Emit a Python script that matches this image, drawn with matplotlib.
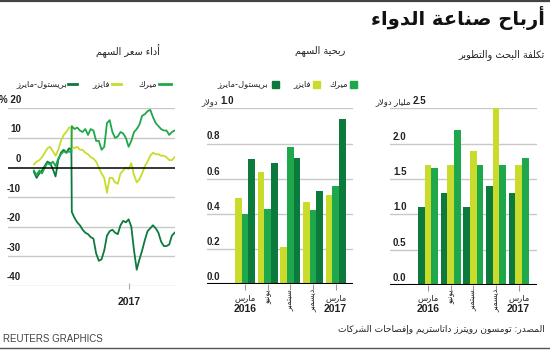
import matplotlib
matplotlib.use("Agg")
import matplotlib.pyplot as plt
import pandas as pd
import numpy as np
from matplotlib.transforms import blended_transform_factory
from matplotlib.lines import Line2D
from matplotlib.patches import Rectangle

# ---------------- data ----------------
title = "أرباح صناعة الدواء"
panel_titles = ["أداء سعر السهم", "ربحية السهم", "تكلفة البحث والتطوير"]
companies = ["بريستول-مايرز", "فايزر", "ميرك"]
quarters = ["مارس", "يونيو", "سبتمبر", "ديسمبر", "مارس"]
quarter_years = ["2016", "", "", "", "2017"]
source_text = "المصدر: تومسون رويترز داتاستريم وإفصاحات الشركات"
credit = "REUTERS GRAPHICS"

# stock performance (% change), weekly Fridays from 2016-04-29 plus 2016-08-04
stock_dates = list(pd.date_range("2016-04-29", periods=53, freq="7D"))
stock_dates.insert(14, pd.Timestamp("2016-08-04"))
bristol_pct = [-1.5, -3.5, -2, -1, 0.5, 2, 1.5, -0.5, -3, 2.5, 5, 6, 5, 6.5, 6,
               -15, -17, -18.5, -19.5, -21, -22, -22.5, -23.5, -24, -29, -31.5, -31, -28,
               -23, -21.5, -21, -22, -22.5, -19.5, -18, -18.5, -17.5, -20, -28, -34.5,
               -31, -28, -24.5, -21.5, -20.5, -19.5, -20.5, -22, -25, -26.5, -26.5, -26,
               -23, -22]
pfizer_pct = [1, 2, 2.5, 3.5, 5, 6.5, 7, 5.5, 4, 6, 9, 11, 12, 13.5, 13.5,
              7, 6.5, 7, 6, 6, 5, 4.5, 3.5, 3, 2, 0, -2, -3.5, -8.5, -3.5, -3.5, -5,
              -5.5, -2, -1, 0, -0.5, 1.5, -2.5, -5, -4, -2, 0.5, 2, 4, 5, 4.5, 4.5,
              4, 4, 3.5, 2.5, 2.5, 3.5]
merck_pct = [-1, -2.5, -1, -2, 0, 1.5, 1, 2, 0.5, 3, 4.5, 5.5, 5, 5.5, 5,
             14, 13, 13.5, 12.5, 12, 13, 11, 13, 12.5, 9, 9, 6, 7, 15, 16, 12, 10,
             10.5, 12, 11.5, 10, 7, 9, 12, 13, 14.5, 17.5, 18, 19, 19.5, 17, 15, 14,
             13, 12.5, 12.5, 11, 12, 12.5]

# earnings per share (dollars)
eps_pfizer = [0.49, 0.64, 0.21, 0.47, 0.51]
eps_merck = [0.40, 0.43, 0.78, 0.42, 0.56]
eps_bristol = [0.71, 0.69, 0.72, 0.53, 0.94]

# R&D cost (billion dollars)
rd_bristol = [1.1, 1.3, 1.1, 1.4, 1.3]
rd_pfizer = [1.7, 1.7, 1.9, 2.5, 1.7]
rd_merck = [1.65, 2.2, 1.7, 1.7, 1.8]

line_ticks = [20, 10, 0, -10, -20, -30, -40]
line_ticklabels = ["% 20", "10", "0", "-10", "-20", "-30", "-40"]
eps_ticks = [0.0, 0.2, 0.4, 0.6, 0.8, 1.0]
rd_ticks = [0.0, 0.5, 1.0, 1.5, 2.0, 2.5]

C_BMS = "#0d7a3d"
C_PFE = "#c9dc2c"
C_MRK = "#1fa84b"
GRID = "#c8c8c8"
TXT = "#222222"

# ---------------- minimal Arabic shaping ----------------
RIGHT = {'آ': 0xFE81, 'أ': 0xFE83, 'ؤ': 0xFE85, 'إ': 0xFE87, 'ا': 0xFE8D, 'ة': 0xFE93,
         'د': 0xFEA9, 'ذ': 0xFEAB, 'ر': 0xFEAD, 'ز': 0xFEAF, 'و': 0xFEED, 'ى': 0xFEEF}
DUAL = {'ئ': 0xFE89, 'ب': 0xFE8F, 'ت': 0xFE95, 'ث': 0xFE99, 'ج': 0xFE9D, 'ح': 0xFEA1,
        'خ': 0xFEA5, 'س': 0xFEB1, 'ش': 0xFEB5, 'ص': 0xFEB9, 'ض': 0xFEBD, 'ط': 0xFEC1,
        'ظ': 0xFEC5, 'ع': 0xFEC9, 'غ': 0xFECD, 'ف': 0xFED1, 'ق': 0xFED5, 'ك': 0xFED9,
        'ل': 0xFEDD, 'م': 0xFEE1, 'ن': 0xFEE5, 'ه': 0xFEE9, 'ي': 0xFEF1}
NONJ = {'ء': 0xFE80}
LAMALEF = {'ا': 0xFEFB, 'أ': 0xFEF7, 'إ': 0xFEF9, 'آ': 0xFEF5}


def shape(s):
    toks = []
    i = 0
    while i < len(s):
        c = s[i]
        if c == 'ل' and i + 1 < len(s) and s[i + 1] in LAMALEF:
            toks.append(('LA', s[i + 1]))
            i += 2
        else:
            toks.append(('C', c))
            i += 1

    def jl(t):
        return t[0] == 'C' and t[1] in DUAL

    def jr(t):
        return t[0] == 'LA' or t[1] in DUAL or t[1] in RIGHT

    out = []
    for k, t in enumerate(toks):
        kind, c = t
        pc = k > 0 and jl(toks[k - 1]) and jr(t)
        nc = k + 1 < len(toks) and jl(t) and jr(toks[k + 1])
        if kind == 'LA':
            out.append(chr(LAMALEF[c] + (1 if pc else 0)))
        elif c in DUAL:
            off = 3 if (pc and nc) else 1 if pc else 2 if nc else 0
            out.append(chr(DUAL[c] + off))
        elif c in RIGHT:
            out.append(chr(RIGHT[c] + (1 if pc else 0)))
        elif c in NONJ:
            out.append(chr(NONJ[c]))
        else:
            out.append(c)
    return ''.join(reversed(out))


AR = ["DejaVu Sans"]
NUM = ["Liberation Sans", "DejaVu Sans"]

W, H = 550, 352
fig = plt.figure(figsize=(W / 100, H / 100), dpi=100)
fig.patch.set_facecolor("white")


def fx(x):
    return x / W


def fy(y):
    return 1 - y / H


def add_ax(l, t, r, b):
    return fig.add_axes([fx(l), fy(b), (r - l) / W, (b - t) / H])


def ftext(x, y, s, **kw):
    fig.text(fx(x), fy(y), s, **kw)


# top and bottom rules
fig.add_artist(Line2D([0, 1], [fy(1), fy(1)], color="#444444", lw=1.6))
fig.add_artist(Line2D([0, 1], [fy(348), fy(348)], color="#555555", lw=1.0))

ftext(545, 18, shape(title), ha="right", va="center", fontsize=14, fontweight="bold",
      family=AR, color="#111111")
ftext(160, 51, shape(panel_titles[0]), ha="right", va="center", fontsize=7, family=AR, color=TXT)
ftext(345, 51, shape(panel_titles[1]), ha="right", va="center", fontsize=7, family=AR, color=TXT)
ftext(545, 55, shape(panel_titles[2]), ha="right", va="center", fontsize=7, family=AR, color=TXT)
ftext(545, 329, shape(source_text), ha="right", va="center", fontsize=6.5, family=AR, color=TXT)
ftext(3, 339, credit, ha="left", va="center", fontsize=7, family=NUM, color="#444444")

# ---------------- line chart ----------------
ax1 = add_ax(8, 108.3, 175, 286)
for v in line_ticks:
    if v == 0:
        continue
    ax1.axhline(v, color=GRID, lw=1, zorder=1)
ax1.plot(stock_dates, bristol_pct, color=C_BMS, lw=1.3, zorder=3)
ax1.plot(stock_dates, pfizer_pct, color=C_PFE, lw=1.3, zorder=2)
ax1.plot(stock_dates, merck_pct, color=C_MRK, lw=1.3, zorder=3)
ax1.axhline(0, color="black", lw=1.1, zorder=4)
ax1.set_ylim(-40, 20)
ax1.set_xlim(pd.Timestamp("2016-02-22"), pd.Timestamp("2017-04-29"))
for s in ax1.spines.values():
    s.set_visible(False)
ax1.set_yticks([])
ax1.set_xticks([pd.Timestamp("2017-01-01")])
ax1.set_xticklabels(["2017"], fontsize=7.5, fontweight="bold", family=NUM, color=TXT)
ax1.tick_params(axis="x", length=4, color="#aaaaaa", direction="inout", pad=6)
tr1 = blended_transform_factory(fig.transFigure, ax1.transData)
for v, lab in zip(line_ticks, line_ticklabels):
    ax1.text(fx(21), v + 1.2, lab, transform=tr1, ha="right", va="bottom", fontsize=7,
             fontweight="bold", family=NUM, color=TXT, clip_on=False)

# line legend
leg_line = [(67, 68, 77, C_BMS), (110, 112, 121, C_PFE), (157, 159, 171, C_MRK)]
for name, (tx, l0, l1, col) in zip(companies, leg_line):
    ftext(tx, 84, shape(name), ha="right", va="center", fontsize=6, family=AR, color=TXT)
    fig.add_artist(Line2D([fx(l0), fx(l1)], [fy(84), fy(84)], color=col, lw=2))

# ---------------- bar charts ----------------
xg = np.arange(len(quarters))
bw = 0.295


def bar_panel(ax, series, colors, ticks, top):
    for v in ticks[1:]:
        ax.axhline(v, color=GRID, lw=1, zorder=1)
    for k, (vals, col) in enumerate(zip(series, colors)):
        ax.bar(xg + (k - 1) * bw, vals, width=bw, color=col, zorder=2, linewidth=0)
    ax.axhline(0, color="black", lw=1.5, zorder=4)
    ax.set_ylim(0, top)
    for s in ax.spines.values():
        s.set_visible(False)
    ax.set_yticks([])
    ax.set_xticks(xg)
    ax.set_xticklabels([])
    ax.tick_params(axis="x", length=4, color="#999999", direction="out")


def bar_labels(ax, centers_px):
    for k, (q, yr) in enumerate(zip(quarters, quarter_years)):
        cx = centers_px[k]
        if yr:
            ftext(cx, 298, shape(q), ha="center", va="center", fontsize=6, family=AR, color=TXT)
            ftext(cx, 309, yr, ha="center", va="center", fontsize=7.5, fontweight="bold",
                  family=NUM, color=TXT)
        else:
            ftext(cx, 289, shape(q), ha="center", va="top", fontsize=5.5, rotation=90,
                  family=AR, color=TXT)


ax2 = add_ax(207, 108.3, 353, 284.3)
bar_panel(ax2, [eps_pfizer, eps_merck, eps_bristol], [C_PFE, C_MRK, C_BMS], eps_ticks, 1.0)
ax2.set_xlim(-1.676, 4.76)
tr2 = blended_transform_factory(fig.transFigure, ax2.transData)
for v in eps_ticks[:-1]:
    ax2.text(fx(207), v + 0.012, f"{v:.1f}", transform=tr2, ha="left", va="bottom",
             fontsize=7, fontweight="bold", family=NUM, color=TXT)
ax2.text(fx(220), 1.012, "1.0", transform=tr2, ha="left", va="bottom", fontsize=7,
         fontweight="bold", family=NUM, color=TXT)
ax2.text(fx(218), 1.012, shape("دولار"), transform=tr2, ha="right", va="bottom", fontsize=6,
         family=AR, color=TXT)
bar_labels(ax2, [245 + 22.67 * k for k in range(5)])

ax3 = add_ax(390, 108.3, 537, 285)
bar_panel(ax3, [rd_bristol, rd_pfizer, rd_merck], [C_BMS, C_PFE, C_MRK], rd_ticks, 2.5)
ax3.set_xlim(-1.676, 4.81)
tr3 = blended_transform_factory(fig.transFigure, ax3.transData)
for v in rd_ticks[:-1]:
    ax3.text(fx(393), v + 0.03, f"{v:.1f}", transform=tr3, ha="left", va="bottom",
             fontsize=7, fontweight="bold", family=NUM, color=TXT)
ax3.text(fx(413), 2.53, "2.5", transform=tr3, ha="left", va="bottom", fontsize=7,
         fontweight="bold", family=NUM, color=TXT)
ax3.text(fx(411), 2.53, shape("مليار دولار"), transform=tr3, ha="right", va="bottom",
         fontsize=6, family=AR, color=TXT)
bar_labels(ax3, [428 + 22.67 * k for k in range(5)])

# bar legend (squares)
leg_sq = [(268, 272, C_BMS), (311, 313, C_PFE), (348, 350, C_MRK)]
for name, (tx, sx, col) in zip(companies, leg_sq):
    ftext(tx, 84, shape(name), ha="right", va="center", fontsize=6, family=AR, color=TXT)
    fig.add_artist(Rectangle((fx(sx), fy(87.5)), 7 / W, 7 / H, color=col,
                             transform=fig.transFigure))

fig.savefig("out.png", dpi=100, facecolor="white")
